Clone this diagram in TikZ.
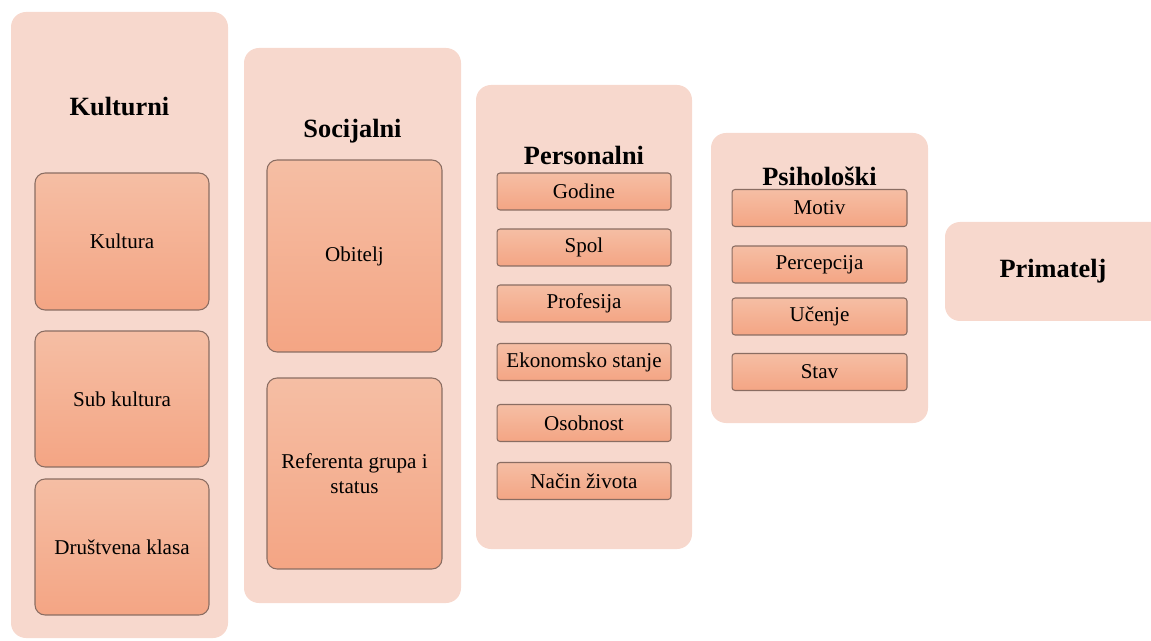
\documentclass[tikz,border=0pt]{standalone}
\usepackage{fontspec}
\setmainfont{Liberation Serif}
\usepackage{tikz}

\definecolor{panelfill}{HTML}{F7D8CD}
\definecolor{innertop}{HTML}{F5BEA4}
\definecolor{innerbot}{HTML}{F4A584}
\definecolor{boxline}{HTML}{8A6D62}

\tikzset{
  panel/.style={fill=panelfill, rounded corners=0.3cm},
  title/.style={font=\fontsize{15}{18}\selectfont\bfseries},
  bigbox/.style={draw=boxline, line width=0.6pt, top color=innertop, bottom color=innerbot,
    rounded corners=0.2cm, inner sep=0pt, align=center, minimum width=3.48cm,
    font=\fontsize{12}{14}\selectfont},
  smallbox/.style={draw=boxline, line width=0.6pt, top color=innertop, bottom color=innerbot,
    rounded corners=0.06cm, inner sep=0pt, minimum width=3.48cm, minimum height=0.74cm,
    font=\fontsize{12}{14}\selectfont}
}

\begin{document}
\begin{tikzpicture}[x=0.02cm, y=-0.02cm]
        \useasboundingbox (0,0) rectangle (1151,641);

        % 背景面板
        \fill[panel] (11,12) rectangle (228,638);
        \fill[panel] (244,48) rectangle (461,603);
        \fill[panel] (476,85) rectangle (692,549);
        \fill[panel] (711,133) rectangle (928,423);
        \fill[panel] (945,222) rectangle (1175,321);

        % Kulturni
        \node[title] (kulturni) at (119.5,107) {Kulturni};
        \node[bigbox, minimum height=2.74cm] (kultura) at (122,241.5) {Kultura};
        \node[bigbox, minimum height=2.72cm] (subkultura) at (122,399) {Sub kultura};
        \node[bigbox, minimum height=2.72cm] (klasa) at (122,547) {Društvena klasa};

        % Socijalni
        \node[title] (socijalni) at (352.5,131) {Socijalni};
        \node[bigbox, minimum width=3.5cm, minimum height=3.84cm] (obitelj) at (354.5,256) {Obitelj};
        \node[bigbox, minimum width=3.5cm, minimum height=3.82cm] (grupa) at (354.5,473.5) {Referenta grupa i\\status};

        % Personalni
        \node[title] (personalni) at (584,155) {Personalni};
        \node[smallbox] (godine) at (584,191.5) {Godine};
        \node[smallbox] (spol) at (584,247.5) {Spol};
        \node[smallbox] (profesija) at (584,303.5) {Profesija};
        \node[smallbox] (stanje) at (584,362) {Ekonomsko stanje};
        \node[smallbox] (osobnost) at (584,423) {Osobnost};
        \node[smallbox] (zivot) at (584,481) {Način života};

        % Psihološki
        \node[title] (psiholoski) at (819.5,176) {Psihološki};
        \node[smallbox, minimum width=3.5cm] (motiv) at (819.5,208) {Motiv};
        \node[smallbox, minimum width=3.5cm] (percepcija) at (819.5,264.5) {Percepcija};
        \node[smallbox, minimum width=3.5cm] (ucenje) at (819.5,316.5) {Učenje};
        \node[smallbox, minimum width=3.5cm] (stav) at (819.5,372) {Stav};

        % Primatelj
        \node[title] (primatelj) at (1053,271) {Primatelj};
    \end{tikzpicture}
\end{document}
